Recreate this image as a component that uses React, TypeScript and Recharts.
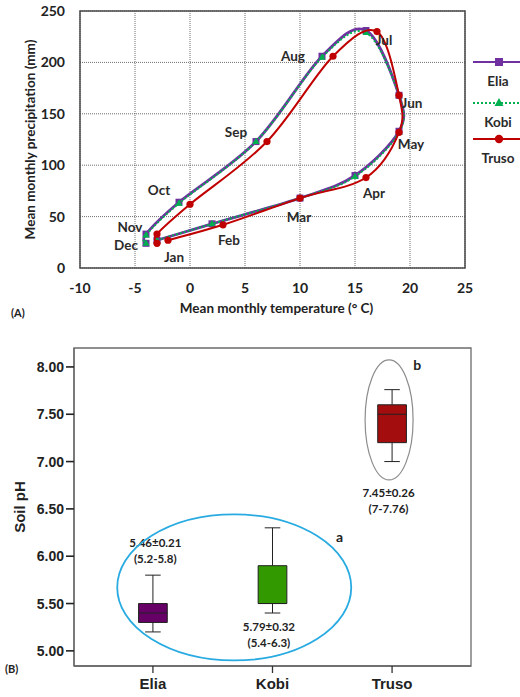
import React from "react";
import {
  ScatterChart,
  ComposedChart,
  Scatter,
  XAxis,
  YAxis,
  CartesianGrid,
  ReferenceArea,
  ReferenceLine,
  ReferenceDot,
  Legend,
  Label,
} from "recharts";

// panel A: climate loop
const months = ["Jan", "Feb", "Mar", "Apr", "May", "Jun", "Jul", "Aug", "Sep", "Oct", "Nov", "Dec"];
const eliaTemp = [-3, 2, 10, 15, 19, 19, 16, 12, 6, -1, -4, -4];
const eliaRain = [27, 43, 68, 90, 133, 168, 231, 206, 123, 64, 33, 24];
const kobiTemp = [-3, 2, 10, 15, 19, 19, 16, 12, 6, -1, -4, -4];
const kobiRain = [27, 43, 68, 89, 132, 168, 229, 205, 123, 63, 32, 24];
const trusoTemp = [-2, 3, 10, 16, 19, 19, 17, 13, 7, 0, -3, -3];
const trusoRain = [27, 42, 68, 88, 132, 168, 230, 206, 123, 62, 33, 24];
const tempTicks = [-10, -5, 0, 5, 10, 15, 20, 25];
const rainTicks = [0, 50, 100, 150, 200, 250];

// panel B: soil pH
const sites = ["Elia", "Kobi", "Truso"];
const phLow = [5.2, 5.4, 7.0];
const phQ1 = [5.3, 5.5, 7.2];
const phMedian = [5.4, 5.5, 7.5];
const phQ3 = [5.5, 5.9, 7.6];
const phHigh = [5.8, 6.3, 7.76];
const phMean = [5.46, 5.79, 7.45];
const phSd = [0.21, 0.32, 0.26];
const phRange = ["5.2-5.8", "5.4-6.3", "7-7.76"];
const phTicks = [5, 5.5, 6, 6.5, 7, 7.5, 8];

const toPoints = (t: number[], p: number[]) =>
  months.map((m, i) => ({ month: m, t: t[i], p: p[i] }));
const eliaData = toPoints(eliaTemp, eliaRain);
const kobiData = toPoints(kobiTemp, kobiRain);
const trusoData = toPoints(trusoTemp, trusoRain);
const boxData = sites.map((s, i) => ({ pos: i + 1, median: phMedian[i] }));

const calibri = "Lato, 'Open Sans', sans-serif";
const arial = "'Liberation Sans', Arial, sans-serif";
const PURPLE = "#7030a0";
const GREEN = "#00b050";
const RED = "#c00000";
const boxColors = ["#660066", "#339900", "#a30d0d"];

// excel-like smoothed line (catmull-rom through the points)
function smoothCurve(context: any) {
  let pts: number[][] = [];
  return {
    areaStart() {},
    areaEnd() {},
    lineStart() {
      pts = [];
    },
    lineEnd() {
      const n = pts.length;
      if (!n) return;
      context.moveTo(pts[0][0], pts[0][1]);
      for (let i = 0; i < n - 1; i++) {
        const p0 = pts[Math.max(0, i - 1)];
        const p1 = pts[i];
        const p2 = pts[i + 1];
        const p3 = pts[Math.min(n - 1, i + 2)];
        const k = 1 / 6;
        context.bezierCurveTo(
          p1[0] + (p2[0] - p0[0]) * k,
          p1[1] + (p2[1] - p0[1]) * k,
          p2[0] - (p3[0] - p1[0]) * k,
          p2[1] - (p3[1] - p1[1]) * k,
          p2[0],
          p2[1]
        );
      }
    },
    point(x: number, y: number) {
      pts.push([+x, +y]);
    },
  };
}

const square = (p: any) => (
  <rect x={p.cx - 3.5} y={p.cy - 3.5} width={7} height={7} fill={PURPLE} />
);
const triangle = (p: any) => (
  <path d={`M${p.cx},${p.cy - 4} L${p.cx + 3.5},${p.cy + 2.5} L${p.cx - 3.5},${p.cy + 2.5} Z`} fill={GREEN} />
);
const dot = (p: any) => <circle cx={p.cx} cy={p.cy} r={3.6} fill={RED} />;

// where each month name sits relative to the Elia point (px)
const labelOffset: Record<string, [number, number]> = {
  Jan: [17, 17], Feb: [17, 16], Mar: [-1, 19], Apr: [19, 18], May: [12, 13], Jun: [13, 8],
  Jul: [18, 10], Aug: [-29, 0], Sep: [-20, -9], Oct: [-20, -12], Nov: [-16, -7], Dec: [-20, 2],
};
const monthLabel = (p: any) => {
  const [dx, dy] = labelOffset[p.payload.month] || [0, 0];
  return (
    <text x={p.cx + dx} y={p.cy + dy} dy="0.35em" textAnchor="middle"
      style={{ fontFamily: calibri, fontWeight: 700, fontSize: 13.5, fill: "#2a2a2a" }}>
      {p.payload.month}
    </text>
  );
};

const legendItems = [
  { name: sites[0], color: PURPLE, dash: undefined, mark: "square" },
  { name: sites[1], color: GREEN, dash: "2 2", mark: "triangle" },
  { name: sites[2], color: RED, dash: undefined, mark: "circle" },
];
const climateLegend = () => (
  <svg width={52} height={120}>
    {legendItems.map((it, i) => {
      const y = [12, 53, 89][i];
      return (
        <g key={it.name}>
          <line x1={5} x2={52} y1={y} y2={y} stroke={it.color} strokeWidth={2.2} strokeDasharray={it.dash} />
          {it.mark === "square" && <rect x={27} y={y - 4} width={8} height={8} fill={it.color} />}
          {it.mark === "triangle" && <path d={`M31,${y - 5} L35.5,${y + 3} L26.5,${y + 3} Z`} fill={it.color} />}
          {it.mark === "circle" && <circle cx={31} cy={y} r={4.2} fill={it.color} />}
          <text x={30} y={y + 19} dy="0.35em" textAnchor="middle"
            style={{ fontFamily: calibri, fontWeight: 700, fontSize: 13.5, fill: "#2a2a2a" }}>
            {it.name}
          </text>
        </g>
      );
    })}
  </svg>
);

const txt = { fontFamily: calibri, fontWeight: 700, fontSize: 11.5, fill: "#222" };

// annotation anchors in data units of panel B
const statPos = [
  { x: 1.02, y: 6.14 },
  { x: 1.97, y: 5.25 },
  { x: 2.97, y: 6.67 },
];

export default function App() {
  return (
    <div style={{ position: "absolute", left: 0, top: 0, width: 520, height: 697, background: "#fff" }}>
      <div style={{ position: "absolute", left: 0, top: 0 }}>
        <ScatterChart width={520} height={330} margin={{ top: 11, right: 55, bottom: 32, left: 30 }}>
          <CartesianGrid stroke="#6e6e6e" strokeWidth={1} strokeDasharray="1 1" />
          <XAxis type="number" dataKey="t" domain={[-10, 25]} ticks={tempTicks} interval={0}
            axisLine={false} tickLine={false} tickMargin={9} height={30}
            tick={{ fontFamily: calibri, fontWeight: 700, fontSize: 14, fill: "#222" }}>
            <Label value="Mean monthly temperature (° C)" position="bottom" offset={5} dx={4}
              style={{ fontFamily: calibri, fontWeight: 700, fontSize: 13.5, fill: "#222" }} />
          </XAxis>
          <YAxis type="number" dataKey="p" domain={[0, 250]} ticks={rainTicks} interval={0}
            axisLine={false} tickLine={false} tickMargin={9} width={50}
            tick={{ fontFamily: calibri, fontWeight: 700, fontSize: 14, fill: "#222" }}>
            <Label value="Mean monthly precipitation (mm)" angle={-90} position="center" dx={-25}
              style={{ fontFamily: calibri, fontWeight: 700, fontSize: 13.5, fill: "#222", textAnchor: "middle" }} />
          </YAxis>
          <ReferenceArea x1={-10} x2={25} y1={0} y2={250} fill="none" fillOpacity={0} stroke="#4a4a4a" strokeWidth={1.5} />
          <Scatter name="Elia" data={eliaData} fill={PURPLE} line={{ stroke: PURPLE, strokeWidth: 2.8 }}
            lineType="joint" lineJointType={smoothCurve as any} shape={square} isAnimationActive={false} />
          <Scatter name="Kobi" data={kobiData} fill={GREEN} line={{ stroke: GREEN, strokeWidth: 2, strokeDasharray: "2 2" }}
            lineType="joint" lineJointType={smoothCurve as any} shape={triangle} isAnimationActive={false} />
          <Scatter name="Truso" data={trusoData} fill={RED} line={{ stroke: RED, strokeWidth: 2 }}
            lineType="joint" lineJointType={smoothCurve as any} shape={dot} isAnimationActive={false} />
          <Scatter data={eliaData} shape={monthLabel} legendType="none" isAnimationActive={false} />
          <Legend layout="vertical" align="center" verticalAlign="middle" content={climateLegend}
            wrapperStyle={{ left: 468, top: 50, width: 52, height: 120 }} />
        </ScatterChart>
      </div>
      <span style={{ position: "absolute", left: 11, top: 306, fontFamily: calibri, fontWeight: 700, fontSize: 11, color: "#222" }}>(A)</span>

      <div style={{ position: "absolute", left: 0, top: 330 }}>
        <ComposedChart width={520} height={367} data={boxData} margin={{ top: 18, right: 49, bottom: 1, left: 14 }}>
          <XAxis type="number" dataKey="pos" domain={[0.34, 3.66]} ticks={[1, 2, 3]} interval={0} allowDataOverflow
            tickFormatter={(v: number) => sites[v - 1]} height={30} tickSize={7} tickMargin={5}
            axisLine={{ stroke: "#666", strokeWidth: 1.3 }} tickLine={{ stroke: "#333", strokeWidth: 1.3 }}
            tick={{ fontFamily: arial, fontWeight: 700, fontSize: 15, fill: "#222" }} />
          <YAxis type="number" domain={[4.84, 8.2]} ticks={phTicks} interval={0} allowDataOverflow
            tickFormatter={(v: number) => v.toFixed(2)} width={60} tickSize={8} tickMargin={2}
            axisLine={{ stroke: "#666", strokeWidth: 1.3 }} tickLine={{ stroke: "#222", strokeWidth: 1.6 }}
            tick={{ fontFamily: arial, fontWeight: 700, fontSize: 14, fill: "#222" }}>
            <Label value="Soil pH" angle={-90} position="center" dx={-24}
              style={{ fontFamily: arial, fontWeight: 700, fontSize: 15, fill: "#222", textAnchor: "middle" }} />
          </YAxis>
          <ReferenceArea x1={0.34} x2={3.66} y1={4.84} y2={8.2} fill="none" fillOpacity={0} stroke="#6b6b6b" strokeWidth={1.3} />
          <Scatter dataKey="median" shape={() => <g />} isAnimationActive={false} />
          {sites.map((s, i) => {
            const x = i + 1;
            return (
              <React.Fragment key={s}>
                <ReferenceLine segment={[{ x, y: phLow[i] }, { x, y: phQ1[i] }]} stroke="#222" strokeWidth={1} />
                <ReferenceLine segment={[{ x, y: phQ3[i] }, { x, y: phHigh[i] }]} stroke="#222" strokeWidth={1} />
                <ReferenceLine segment={[{ x: x - 0.065, y: phLow[i] }, { x: x + 0.065, y: phLow[i] }]} stroke="#222" strokeWidth={1} />
                <ReferenceLine segment={[{ x: x - 0.065, y: phHigh[i] }, { x: x + 0.065, y: phHigh[i] }]} stroke="#222" strokeWidth={1} />
                <ReferenceArea x1={x - 0.12} x2={x + 0.12} y1={phQ1[i]} y2={phQ3[i]} fill={boxColors[i]} fillOpacity={1} stroke="#222" strokeWidth={1} />
                <ReferenceLine segment={[{ x: x - 0.12, y: phMedian[i] }, { x: x + 0.12, y: phMedian[i] }]} stroke="#222" strokeWidth={1} />
                <ReferenceDot x={statPos[i].x} y={statPos[i].y} r={0}
                  shape={(p: any) => (
                    <g>
                      <text x={p.cx} y={p.cy} dy="0.35em" textAnchor="middle" style={txt}>
                        {`${phMean[i].toFixed(2)}±${phSd[i].toFixed(2)}`}
                      </text>
                      <text x={p.cx} y={p.cy + 16} dy="0.35em" textAnchor="middle" style={txt}>
                        {`(${phRange[i]})`}
                      </text>
                    </g>
                  )} />
              </React.Fragment>
            );
          })}
          <ReferenceDot x={1.68} y={5.67} r={0}
            shape={(p: any) => <ellipse cx={p.cx} cy={p.cy} rx={117} ry={73} fill="none" stroke="#29abe2" strokeWidth={1.8} />} />
          <ReferenceDot x={2.975} y={7.44} r={0}
            shape={(p: any) => <ellipse cx={p.cx} cy={p.cy} rx={24} ry={60} fill="none" stroke="#8c8c8c" strokeWidth={1.2} />} />
          <ReferenceDot x={2.56} y={6.2} r={0}
            shape={(p: any) => <text x={p.cx} y={p.cy} dy="0.35em" textAnchor="middle" style={{ ...txt, fontSize: 14 }}>a</text>} />
          <ReferenceDot x={3.21} y={8.02} r={0}
            shape={(p: any) => <text x={p.cx} y={p.cy} dy="0.35em" textAnchor="middle" style={{ ...txt, fontSize: 14 }}>b</text>} />
        </ComposedChart>
      </div>
      <span style={{ position: "absolute", left: 5, top: 662, fontFamily: calibri, fontWeight: 700, fontSize: 11, color: "#222" }}>(B)</span>
    </div>
  );
}
